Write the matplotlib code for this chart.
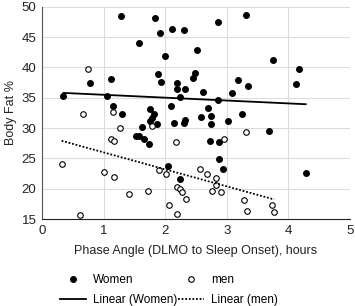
import numpy as np
import matplotlib
matplotlib.use("Agg")
import matplotlib.pyplot as plt
from matplotlib.lines import Line2D

plt.rcParams['font.family'] = ['Liberation Sans', 'DejaVu Sans']

# ─── data ───
women_x = [0.35, 0.78, 1.05, 1.12, 1.28, 1.58, 1.15, 1.30, 1.75, 1.82,
           1.78, 1.75, 1.86, 1.62, 1.52, 1.58, 1.66, 1.74, 1.83, 1.92,
           2.11, 2.31, 2.86, 3.32, 1.99, 2.52, 1.89, 1.94, 2.19, 2.19,
           2.32, 2.49, 2.46, 2.62, 2.24, 2.86, 3.19, 3.34, 3.09, 2.09,
           2.69, 2.74, 2.74, 2.58, 2.33, 2.31, 2.14, 3.02, 3.24, 3.75,
           4.17, 4.12, 2.73, 2.87, 2.87, 2.94, 2.05, 2.24, 3.68, 4.28]
women_y = [35.3, 37.4, 35.3, 38.1, 48.5, 44.0, 33.7, 32.3, 33.1, 32.3,
           31.6, 31.2, 30.7, 30.1, 28.7, 28.7, 28.2, 27.4, 48.2, 45.7,
           46.4, 46.2, 47.5, 48.7, 41.9, 42.8, 38.9, 37.6, 37.4, 36.5,
           36.5, 39.0, 38.2, 35.9, 35.1, 34.6, 38.0, 36.9, 35.8, 33.6,
           33.3, 32.0, 30.6, 31.9, 31.4, 30.8, 30.8, 31.2, 32.4, 41.2,
           39.7, 37.3, 27.8, 27.7, 24.9, 23.3, 23.8, 21.6, 29.6, 22.6]

men_x = [0.75, 0.67, 1.16, 1.27, 1.12, 1.17, 0.32, 1.01, 1.17, 1.42,
         1.72, 0.62, 1.79, 2.18, 2.96, 3.32, 1.90, 2.02, 2.56, 2.68,
         2.82, 2.82, 2.76, 2.91, 2.19, 2.24, 2.28, 2.34, 2.06, 2.19,
         3.28, 3.33, 3.73, 3.77]
men_y = [39.7, 32.3, 32.7, 30.0, 28.2, 27.8, 24.0, 22.7, 22.0, 19.1,
         19.7, 15.6, 30.4, 27.7, 28.2, 29.4, 23.1, 22.5, 23.3, 22.5,
         21.8, 20.7, 19.6, 19.4, 20.3, 20.0, 19.4, 18.3, 17.3, 15.8,
         18.2, 16.3, 17.4, 16.2]

x_ticks = [0, 1, 2, 3, 4, 5]
y_ticks = [15, 20, 25, 30, 35, 40, 45, 50]


def trend(x, y):
    x = np.asarray(x)
    slope, icpt = np.polyfit(x, y, 1)
    xs = np.array([x.min(), x.max()])
    return xs, slope * xs + icpt


fig = plt.figure(figsize=(3.55, 3.06), dpi=100)
ax = fig.add_axes([0.118, 0.284, 0.868, 0.694])

ax.grid(True, color='#dcdcdc', linewidth=0.8)
ax.set_axisbelow(True)

ax.scatter(women_x, women_y, s=16, color='black', zorder=3)
ax.scatter(men_x, men_y, s=16, facecolor='white', edgecolor='black',
           linewidth=0.8, zorder=3)

wx, wy = trend(women_x, women_y)
mx, my = trend(men_x, men_y)
ax.plot(wx, wy, color='black', linewidth=1.3, zorder=4)
ax.plot(mx, my, color='black', linewidth=1.3, linestyle=(0, (1, 1)), zorder=4)

ax.set_xlim(0, 5)
ax.set_ylim(15, 50)
ax.set_xticks(x_ticks)
ax.set_yticks(y_ticks)
ax.tick_params(length=0, labelsize=9.5, colors='#222222', pad=4)
for s in ['top', 'right']:
    ax.spines[s].set_visible(False)
ax.spines['left'].set_color('#555555')
ax.spines['bottom'].set_color('#222222')

ax.set_xlabel('Phase Angle (DLMO to Sleep Onset), hours', fontsize=9,
              color='#222222', labelpad=6)
ax.set_ylabel('Body Fat %', fontsize=9, color='#222222', labelpad=3)

handles = [
    Line2D([], [], marker='o', linestyle='none', color='black', markersize=4),
    Line2D([], [], color='black', linewidth=1.3),
    Line2D([], [], marker='o', linestyle='none', markerfacecolor='white',
           markeredgecolor='black', markersize=4, markeredgewidth=0.8),
    Line2D([], [], color='black', linewidth=1.3, linestyle=(0, (1, 1))),
]
labels = ['Women', 'Linear (Women)', 'men', 'Linear (men)']
fig.legend(handles, labels, ncol=2, loc='lower center',
           bbox_to_anchor=(0.475, -0.035), frameon=False, fontsize=8.5,
           handlelength=2.2, columnspacing=0.05, handletextpad=0.6,
           labelspacing=0.7)

plt.savefig('out.png', dpi=100)
